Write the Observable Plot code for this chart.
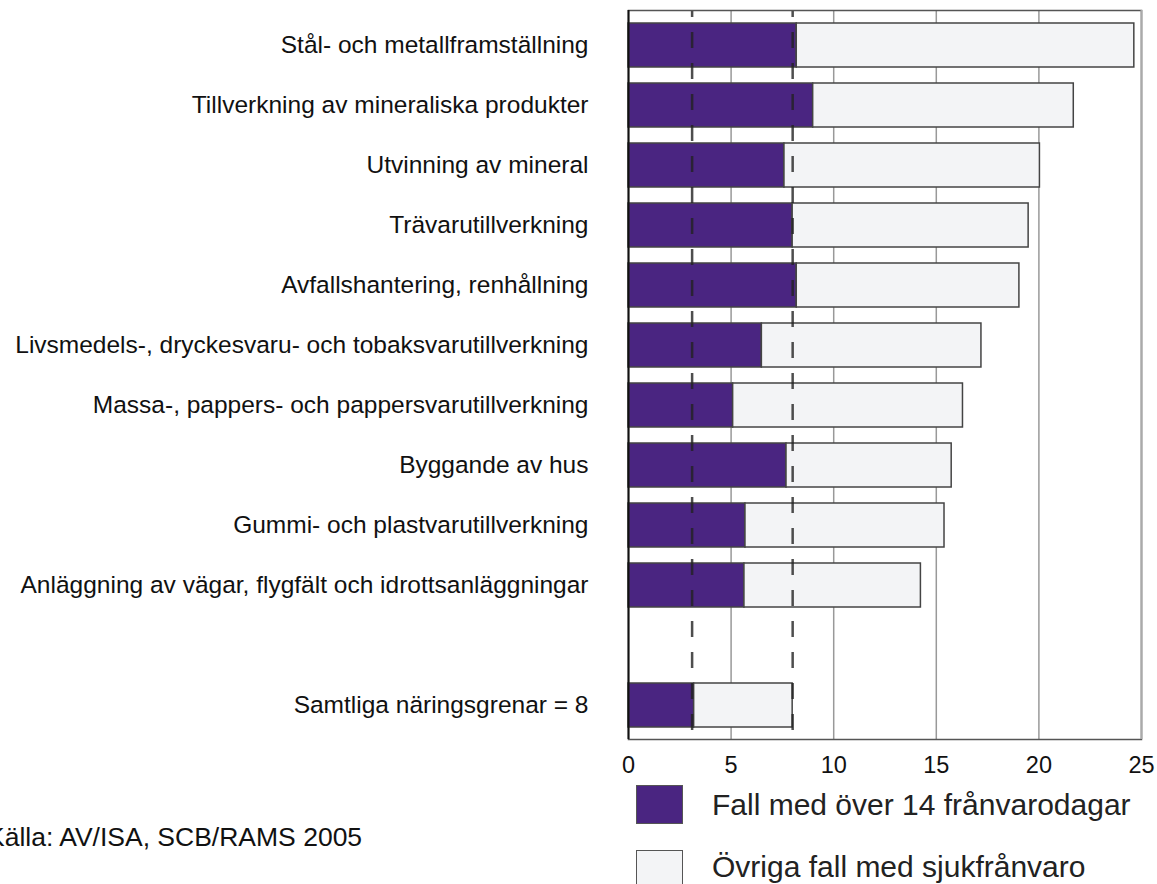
<!DOCTYPE html>
<html>
<head>
<meta charset="utf-8">
<script src="https://cdn.jsdelivr.net/npm/d3@7"></script>
<script src="https://cdn.jsdelivr.net/npm/@observablehq/plot@0.6"></script>
<style>
  body { margin: 0; background: #fff; font-family: "Liberation Sans", Arial, sans-serif; }
  #wrap { position: relative; width: 1157px; height: 884px; overflow: hidden; background: #fff; }
  #chart { position: absolute; left: 0; top: 0; }
  .sw { position: absolute; left: 636px; width: 47px; height: 39px; border: 1.5px solid #555; box-sizing: border-box; }
  .lt { position: absolute; left: 712px; font-size: 30px; line-height: 30px; color: #222; white-space: nowrap; }
  #caption { position: absolute; left: -13px; top: 824px; font-size: 26.5px; line-height: 27px; color: #111; white-space: nowrap; }
</style>
</head>
<body>
<div id="wrap">
  <div id="chart"></div>
  <div id="legend"></div>
  <div id="caption"></div>
</div>
<script>
const categories = [
  "Stål- och metallframställning",
  "Tillverkning av mineraliska produkter",
  "Utvinning av mineral",
  "Trävarutillverkning",
  "Avfallshantering, renhållning",
  "Livsmedels-, dryckesvaru- och tobaksvarutillverkning",
  "Massa-, pappers- och pappersvarutillverkning",
  "Byggande av hus",
  "Gummi- och plastvarutillverkning",
  "Anläggning av vägar, flygfält och idrottsanläggningar",
  "Samtliga näringsgrenar = 8"
];
const longCases  = [8.2, 9.0, 7.6, 8.0, 8.2, 6.5, 5.1, 7.7, 5.7, 5.65, 3.2];
const otherCases = [16.45, 12.7, 12.45, 11.5, 10.85, 10.7, 11.2, 8.05, 9.7, 8.6, 4.8];
const seriesNames = ["Fall med över 14 frånvarodagar", "Övriga fall med sjukfrånvaro"];
const seriesColors = ["#4a2581", "#f3f4f6"];
const xTicks = [0, 5, 10, 15, 20, 25];
const refLines = [3.1, 8];
const captionText = "Källa: AV/ISA, SCB/RAMS 2005";

const gapSlot = " ";
const yDomain = [...categories.slice(0, 10), gapSlot, categories[10]];

const rows = categories.flatMap((c, i) => [
  {cat: c, series: seriesNames[0], value: longCases[i]},
  {cat: c, series: seriesNames[1], value: otherCases[i]}
]);

const chart = Plot.plot({
  width: 1157,
  height: 784,
  marginLeft: 628,
  marginRight: 16,
  marginTop: 10,
  marginBottom: 45,
  style: {fontFamily: "'Liberation Sans', Arial, sans-serif", fontSize: "24.5px", color: "#111", background: "white"},
  x: {domain: [0, 25], ticks: xTicks},
  y: {domain: yDomain, paddingInner: 0.275, paddingOuter: 0.145},
  color: {domain: seriesNames, range: seriesColors},
  marks: [
    Plot.ruleX(xTicks.slice(1, -1), {stroke: "#999", strokeWidth: 1.5}),
    Plot.barX(rows, Plot.stackX({x: "value", y: "cat", fill: "series", stroke: "#444", strokeWidth: 1.5})),
    Plot.ruleX(refLines, {stroke: "#222", strokeOpacity: 0.8, strokeWidth: 2.5, strokeDasharray: "16,15", strokeDashoffset: 9}),
    Plot.frame({stroke: "#555", strokeWidth: 1.5}),
    Plot.ruleX([25], {stroke: "#aaa", strokeWidth: 2}),
    Plot.ruleX([0], {stroke: "#111", strokeWidth: 2}),
    Plot.axisX({ticks: xTicks, tickSize: 0, tickPadding: 17, fontSize: 23.5, label: null}),
    Plot.axisY({tickSize: 0, tickPadding: 40, fontSize: 24.5, tickFormat: d => d.trim(), label: null})
  ]
});
document.getElementById("chart").appendChild(chart);

const legend = document.getElementById("legend");
const swTops = [785, 850];
const txtTops = [790, 852];
seriesNames.forEach((name, i) => {
  const sw = document.createElement("div");
  sw.className = "sw";
  sw.style.top = swTops[i] + "px";
  sw.style.background = seriesColors[i];
  legend.appendChild(sw);
  const t = document.createElement("div");
  t.className = "lt";
  t.style.top = txtTops[i] + "px";
  t.textContent = name;
  legend.appendChild(t);
});
document.getElementById("caption").textContent = captionText;
</script>
</body>
</html>
